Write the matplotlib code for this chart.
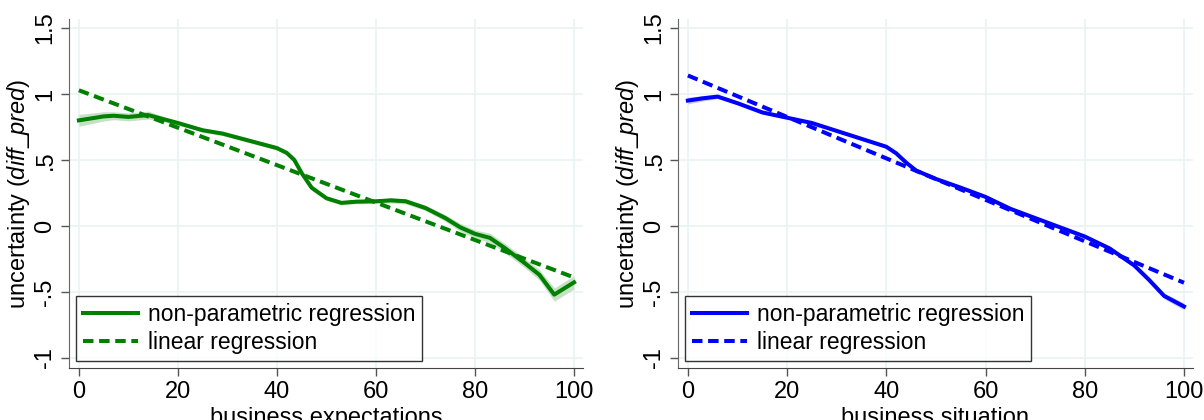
import matplotlib
matplotlib.use('Agg')
import matplotlib.pyplot as plt
import numpy as np

plt.rcParams['font.family'] = ['Liberation Sans', 'DejaVu Sans']
plt.rcParams['mathtext.fontset'] = 'custom'
plt.rcParams['mathtext.rm'] = 'Liberation Sans'
plt.rcParams['mathtext.it'] = 'Liberation Sans:italic'

# business expectations panel (green)
exp_x = [0, 5, 7, 10, 14, 17, 20, 25, 29, 33, 36, 40, 42, 43.5, 45, 47, 50, 53,
         56, 60, 63, 66, 70, 74, 77, 80, 83, 86, 90, 93, 96, 100]
exp_np = [0.80, 0.83, 0.835, 0.826, 0.84, 0.81, 0.78, 0.725, 0.70, 0.66, 0.63,
          0.59, 0.553, 0.50, 0.40, 0.29, 0.21, 0.175, 0.184, 0.187, 0.194, 0.187,
          0.136, 0.06, -0.01, -0.06, -0.09, -0.167, -0.28, -0.37, -0.52, -0.427]
exp_ci = [0.045, 0.035, 0.03, 0.03, 0.03, 0.02, 0.015, 0.015, 0.015, 0.015, 0.015,
          0.015, 0.015, 0.02, 0.02, 0.02, 0.015, 0.015, 0.015, 0.015, 0.02, 0.02,
          0.02, 0.025, 0.03, 0.03, 0.035, 0.035, 0.035, 0.04, 0.05, 0.05]
exp_lin = [1.028, -0.39]

# business situation panel (blue)
sit_x = [0, 3, 6, 10, 15, 20, 25, 30, 35, 40, 42, 44, 46, 50, 55, 60, 65, 70,
         75, 80, 85, 90, 93, 96, 98, 100]
sit_np = [0.95, 0.967, 0.98, 0.93, 0.86, 0.82, 0.78, 0.72, 0.66, 0.60, 0.55, 0.48,
          0.42, 0.356, 0.29, 0.22, 0.13, 0.06, -0.01, -0.08, -0.17, -0.30, -0.41,
          -0.53, -0.57, -0.61]
sit_ci = [0.025, 0.02, 0.015, 0.012, 0.01, 0.01, 0.01, 0.01, 0.01, 0.01, 0.01,
          0.01, 0.01, 0.01, 0.01, 0.01, 0.01, 0.01, 0.01, 0.012, 0.015, 0.015,
          0.02, 0.02, 0.025, 0.025]
sit_lin = [1.14, -0.43]

yticks = [-1, -0.5, 0, 0.5, 1, 1.5]
ytick_labels = ['-1', '-.5', '0', '.5', '1', '1.5']
xticks = [0, 20, 40, 60, 80, 100]

fig = plt.figure(figsize=(12.04, 4.2), dpi=100)
ax1 = fig.add_axes([0.0573, 0.1238, 0.4269, 0.831])
ax2 = fig.add_axes([0.5631, 0.1238, 0.4277, 0.831])

panels = [
    (ax1, exp_x, exp_np, exp_ci, exp_lin, '#008000', '#c5e0c5', 'business expectations'),
    (ax2, sit_x, sit_np, sit_ci, sit_lin, '#0000ff', '#c8c8f5', 'business situation'),
]

for ax, x, y, ci, lin, col, bandcol, xlab in panels:
    x = np.array(x)
    y = np.array(y)
    ci = np.array(ci)
    ax.fill_between(x, y - ci, y + ci, color=bandcol, lw=0, zorder=2)
    ax.plot(x, y, color=col, lw=2.9, zorder=3, label='non-parametric regression',
            solid_joinstyle='round')
    ax.plot([0, 100], lin, color=col, lw=2.9, ls=(0, (2.6, 1.4)), zorder=4,
            label='linear regression')

    ax.set_xlim(-2.0, 101.8)
    ax.set_ylim(-1.076, 1.568)
    ax.set_xticks(xticks)
    ax.set_yticks(yticks)
    ax.set_yticklabels(ytick_labels, rotation=90, va='center')
    ax.tick_params(labelsize=17, length=6, width=1, color='#555555', pad=3)
    ax.grid(True, color='#eaf2f3', lw=1.2, zorder=0)
    ax.set_axisbelow(True)
    for s in ['top', 'right']:
        ax.spines[s].set_visible(False)
    ax.spines['left'].set_color('#666666')
    ax.spines['bottom'].set_color('#444444')
    ax.set_xlabel(xlab, fontsize=17, labelpad=3)
    ax.set_ylabel(r'uncertainty ($\mathit{diff\_pred}$)', fontsize=17, labelpad=2)
    leg = ax.legend(loc='lower left', fontsize=16.5, frameon=True, fancybox=False,
                    edgecolor='black', handlelength=2.4, handletextpad=0.45,
                    labelspacing=0.25, borderpad=0.3, borderaxespad=0.3)
    leg.get_frame().set_linewidth(1.0)

fig.savefig('out.png', dpi=100)
